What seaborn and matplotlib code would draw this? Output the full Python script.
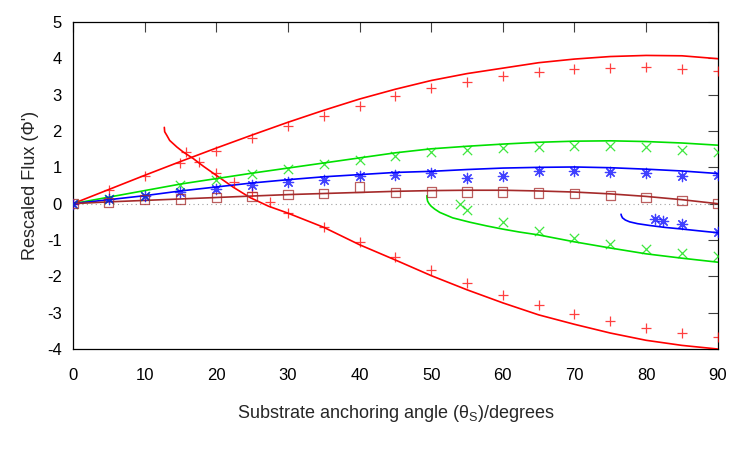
import numpy as np
import pandas as pd
import matplotlib
matplotlib.use("Agg")
import matplotlib.pyplot as plt
import seaborn as sns

# ---- data ----
angles = [0, 5, 10, 15, 20, 25, 30, 35, 40, 45, 50, 55, 60, 65, 70, 75, 80, 85, 90]

# model curves (upper branches)
red_curve = [0, 0.39, 0.78, 1.16, 1.53, 1.89, 2.24, 2.57, 2.88, 3.15, 3.39, 3.58, 3.73, 3.88, 3.98, 4.05, 4.08, 4.07, 3.99]
green_curve = [0, 0.18, 0.36, 0.54, 0.69, 0.84, 0.98, 1.12, 1.26, 1.40, 1.51, 1.58, 1.64, 1.69, 1.72, 1.73, 1.71, 1.67, 1.61]
blue_curve = [0, 0.11, 0.22, 0.35, 0.46, 0.57, 0.66, 0.74, 0.80, 0.86, 0.89, 0.94, 0.98, 1.00, 1.01, 0.99, 0.95, 0.90, 0.83]
brown_curve = [0, 0.05, 0.09, 0.13, 0.17, 0.21, 0.25, 0.28, 0.31, 0.34, 0.36, 0.37, 0.37, 0.35, 0.32, 0.27, 0.20, 0.11, 0.0]

# model curves (lower branches)
red_low_x = [12.75, 12.8, 13.1, 13.5, 14.5, 15.4, 16.8, 18.2, 20, 22.4, 24.7, 27.3, 30, 35, 40, 45, 50, 55, 60, 65, 70, 75, 80, 85, 90]
red_low_y = [2.10, 1.98, 1.88, 1.74, 1.56, 1.42, 1.24, 1.03, 0.78, 0.45, 0.17, -0.07, -0.26, -0.65, -1.13, -1.55, -1.98, -2.37, -2.73, -3.06, -3.32, -3.56, -3.76, -3.90, -4.00]
green_low_x = [49.4, 49.42, 49.5, 49.7, 50.0, 50.5, 51.2, 53.0, 55.4, 57.7, 60, 62.3, 65, 70, 75, 80, 85, 90]
green_low_y = [0.22, 0.15, 0.07, 0.0, -0.07, -0.15, -0.24, -0.39, -0.51, -0.61, -0.70, -0.78, -0.86, -1.05, -1.22, -1.38, -1.50, -1.61]
blue_low_x = [76.5, 76.55, 76.7, 77.1, 77.7, 78.8, 80.5, 82.5, 85.1, 87.5, 90]
blue_low_y = [-0.29, -0.33, -0.39, -0.45, -0.50, -0.55, -0.60, -0.65, -0.70, -0.75, -0.80]

# simulation points
red_pts = [0, 0.37, 0.75, 1.12, 1.45, 1.82, 2.15, 2.42, 2.70, 2.95, 3.17, 3.36, 3.51, 3.62, 3.71, 3.74, 3.75, 3.72, 3.66]
red_low_pts_x = [15.8, 17.6, 20, 22.5, 25, 27.5, 30, 35, 40, 45, 50, 55, 60, 65, 70, 75, 80, 85, 90]
red_low_pts_y = [1.42, 1.14, 0.84, 0.59, 0.32, 0.04, -0.26, -0.65, -1.06, -1.48, -1.83, -2.18, -2.50, -2.78, -3.03, -3.24, -3.42, -3.56, -3.67]
green_pts = [0, 0.13, 0.22, 0.52, 0.66, 0.83, 0.95, 1.09, 1.21, 1.32, 1.41, 1.47, 1.53, 1.57, 1.58, 1.58, 1.55, 1.49, 1.42]
green_low_pts_x = [54, 55, 60, 65, 70, 75, 80, 85, 90]
green_low_pts_y = [0.0, -0.17, -0.51, -0.74, -0.94, -1.11, -1.24, -1.36, -1.45]
blue_pts = [0, 0.13, 0.20, 0.32, 0.41, 0.52, 0.59, 0.66, 0.75, 0.80, 0.84, 0.72, 0.77, 0.91, 0.91, 0.87, 0.84, 0.77, 0.78]
blue_low_pts_x = [81.2, 82.4, 85, 90]
blue_low_pts_y = [-0.41, -0.47, -0.56, -0.79]
brown_pts = [0, 0.04, 0.11, 0.13, 0.17, 0.20, 0.25, 0.28, 0.46, 0.31, 0.32, 0.32, 0.32, 0.29, 0.28, 0.23, 0.17, 0.09, 0.0]

x_ticks = [0, 10, 20, 30, 40, 50, 60, 70, 80, 90]
y_ticks = [-4, -3, -2, -1, 0, 1, 2, 3, 4, 5]

RED = "#ff0000"
GREEN = "#00e000"
BLUE = "#0000ff"
BROWN = "#a52a2a"

sns.set_theme(style="white")
plt.rcParams["font.family"] = ["Liberation Sans", "DejaVu Sans"]
plt.rcParams["mathtext.fontset"] = "custom"
plt.rcParams["mathtext.rm"] = "Liberation Sans"
plt.rcParams["mathtext.it"] = "Liberation Sans"
plt.rcParams["axes.unicode_minus"] = False

fig = plt.figure(figsize=(7.5, 4.5), dpi=100)
ax = fig.add_axes([0.0973, 0.2244, 0.8597, 0.7267])

ax.axhline(0, color="#a0a0a0", lw=0.8, ls=(0, (1, 3)), zorder=1)

def curve(x, y, c):
    df = pd.DataFrame({"x": x, "y": y})
    sns.lineplot(data=df, x="x", y="y", color=c, lw=1.2, sort=False,
                 estimator=None, ax=ax, zorder=3)

def pts(x, y, c, m, s, lw=0.9, alpha=0.75):
    df = pd.DataFrame({"x": x, "y": y})
    if m == "s":
        sns.scatterplot(data=df, x="x", y="y", marker="s", s=s, facecolor="none",
                        edgecolor=c, linewidth=lw, alpha=alpha, ax=ax, zorder=4)
    else:
        sns.scatterplot(data=df, x="x", y="y", marker=m, s=s, color=c,
                        linewidth=lw, alpha=alpha, ax=ax, zorder=4)

curve(angles, red_curve, RED)
curve(red_low_x, red_low_y, RED)
curve(angles, green_curve, GREEN)
curve(green_low_x, green_low_y, GREEN)
curve(angles, blue_curve, BLUE)
curve(blue_low_x, blue_low_y, BLUE)
curve(angles, brown_curve, BROWN)

pts(angles, red_pts, RED, "+", 55)
pts(red_low_pts_x, red_low_pts_y, RED, "+", 55)
pts(angles, green_pts, GREEN, "x", 45)
pts(green_low_pts_x, green_low_pts_y, GREEN, "x", 45)
pts(angles, blue_pts, BLUE, (8, 2, 0), 55)
pts(blue_low_pts_x, blue_low_pts_y, BLUE, (8, 2, 0), 55)
pts(angles, brown_pts, BROWN, "s", 45, lw=0.9)

ax.set_xlim(0, 90)
ax.set_ylim(-4, 5)
ax.set_xticks(x_ticks)
ax.set_yticks(y_ticks)
ax.tick_params(direction="in", length=7, width=0.8, color="#404040",
               top=True, right=True, labelsize=12, labelcolor="black")
ax.tick_params(axis="x", pad=14)
ax.tick_params(axis="y", pad=8)
for sp in ax.spines.values():
    sp.set_color("black")
    sp.set_linewidth(0.9)

ax.set_xlabel("Substrate anchoring angle (θ$_\\mathrm{S}$)/degrees", fontsize=13, labelpad=14)
ax.set_ylabel("Rescaled Flux (Φ')", fontsize=13, labelpad=6)

fig.savefig("out.png", dpi=100)
